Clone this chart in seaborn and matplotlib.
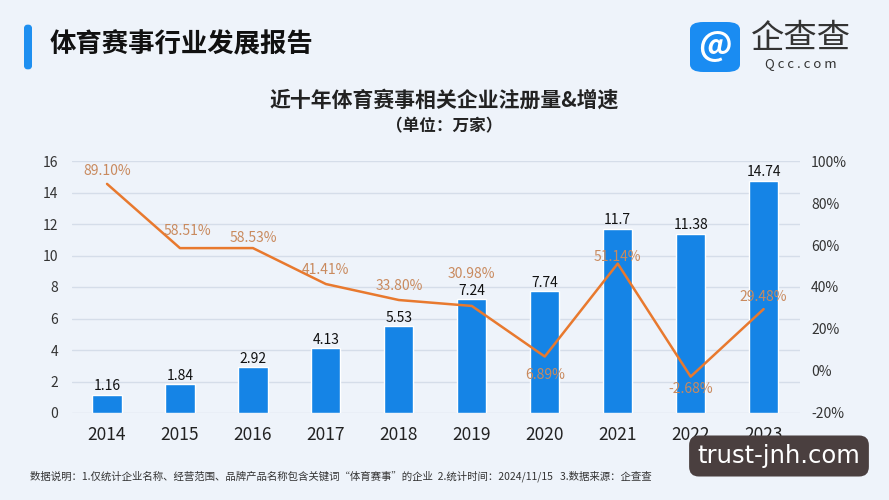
import numpy as np
import pandas as pd
import seaborn as sns
import matplotlib.pyplot as plt
from matplotlib.patches import FancyBboxPatch
from matplotlib.ticker import FuncFormatter

# data
years = ['2014', '2015', '2016', '2017', '2018', '2019', '2020', '2021', '2022', '2023']
registrations = [1.16, 1.84, 2.92, 4.13, 5.53, 7.24, 7.74, 11.7, 11.38, 14.74]
reg_labels = ['1.16', '1.84', '2.92', '4.13', '5.53', '7.24', '7.74', '11.7', '11.38', '14.74']
growth = [89.10, 58.51, 58.53, 41.41, 33.80, 30.98, 6.89, 51.14, -2.68, 29.48]
# label offsets (points) for the growth labels
growth_offsets = [(0, 9), (5, 12), (0, 7), (0, 10), (0, 10), (0, 23), (0, -13), (0, 5), (0, -9), (0, 9)]

df = pd.DataFrame({'year': years, 'reg': registrations})

sns.set_theme(style='white')
plt.rcParams['font.family'] = ['Noto Sans CJK SC', 'DejaVu Sans']

bg = '#eef3fa'
bar_color = '#1584e6'
line_color = '#e8792e'
label_color = '#c98a5e'

fig = plt.figure(figsize=(8.89, 5.0), dpi=100, facecolor=bg)
ax = fig.add_axes([0.081, 0.174, 0.819, 0.504])
ax.set_facecolor('none')

sns.barplot(data=df, x='year', y='reg', color=bar_color, width=0.4, ax=ax, saturation=1)
ax.set_ylim(0, 16)
ax.set_yticks(np.arange(0, 17, 2))
ax.set_xlim(-0.48, 9.5)
ax.set_xlabel('')
ax.set_ylabel('')
ax.grid(axis='y', color='#d5dde9', linewidth=1)
ax.set_axisbelow(True)
for s in ax.spines.values():
    s.set_visible(False)
ax.tick_params(axis='y', labelsize=10, colors='#333333', length=0, pad=10)
ax.tick_params(axis='x', labelsize=12.5, colors='#222222', length=0, pad=9)

for i, (v, t) in enumerate(zip(registrations, reg_labels)):
    ax.annotate(t, (i, v), xytext=(0, 1), textcoords='offset points',
                ha='center', va='bottom', fontsize=10, color='#111111')

ax2 = ax.twinx()
sns.lineplot(x=np.arange(len(years)), y=growth, ax=ax2, color=line_color, linewidth=1.8)
ax2.set_ylim(-20, 100)
ax2.set_yticks(np.arange(-20, 101, 20))
ax2.yaxis.set_major_formatter(FuncFormatter(lambda v, p: f'{v:.0f}%'))
ax2.tick_params(axis='y', labelsize=10, colors='#333333', length=0, pad=8)
for s in ax2.spines.values():
    s.set_visible(False)
ax2.grid(False)

for i, (g, off) in enumerate(zip(growth, growth_offsets)):
    ax2.annotate(f'{g:.2f}%', (i, g), xytext=off, textcoords='offset points',
                 ha='center', va='center', fontsize=10, color=label_color)

# titles
fig.text(0.5, 0.8, '近十年体育赛事相关企业注册量&增速', ha='center', va='center',
         fontsize=15, fontweight='bold', color='#222222')
fig.text(0.5, 0.748, '（单位：万家）', ha='center', va='center',
         fontsize=12, fontweight='bold', color='#222222')

# header
fig.patches.append(FancyBboxPatch((24 / 889, 1 - 70 / 500), 8 / 889, 46 / 500,
                                  boxstyle='round,pad=0,rounding_size=0.008',
                                  transform=fig.transFigure, facecolor='#1e8ff0', edgecolor='none'))
fig.text(50 / 889, 1 - 45 / 500, '体育赛事行业发展报告', ha='left', va='center',
         fontsize=19, fontweight='bold', color='#111111')

# logo
fig.patches.append(FancyBboxPatch((690 / 889, 1 - 72 / 500), 50 / 889, 50 / 500,
                                  boxstyle='round,pad=0,rounding_size=0.015',
                                  transform=fig.transFigure, facecolor='#1a8cf2', edgecolor='none'))
fig.text(715 / 889, 1 - 47 / 500, '@', ha='center', va='center', fontsize=24,
         fontweight='bold', color='white')
fig.text(801 / 889, 1 - 38 / 500, '企查查', ha='center', va='center', fontsize=24, color='#333333')
fig.text(801 / 889, 1 - 64 / 500, 'Q c c . c o m', ha='center', va='center', fontsize=9.5, color='#333333')

# footnote
fig.text(30 / 889, 1 - 476 / 500,
         '数据说明：1.仅统计企业名称、经营范围、品牌产品名称包含关键词“体育赛事”的企业  2.统计时间：2024/11/15   3.数据来源：企查查',
         ha='left', va='center', fontsize=7.5, color='#333333')

# watermark
fig.text(779 / 889, 1 - 456 / 500, 'trust-jnh.com', ha='center', va='center', fontsize=17.5,
         color='white', family=['DejaVu Sans'],
         bbox=dict(boxstyle='round,pad=0.35,rounding_size=0.4', facecolor='#4a3f3f', edgecolor='none'))

fig.savefig('out.png', dpi=100, facecolor=bg)
